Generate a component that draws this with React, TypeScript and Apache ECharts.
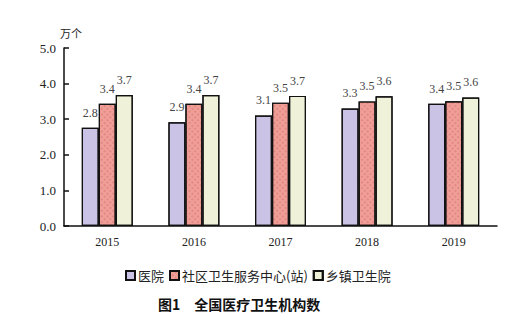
import React, { useEffect, useRef } from "react";
import * as echarts from "echarts";

const years = ["2015", "2016", "2017", "2018", "2019"];
const hospitals = [2.7587, 2.914, 3.1056, 3.3009, 3.4354];
const community = [3.4321, 3.4327, 3.4652, 3.4997, 3.5013];
const township = [3.6817, 3.6795, 3.6551, 3.6461, 3.6112];
const seriesNames = ["医院", "社区卫生服务中心(站)", "乡镇卫生院"];
const titleText = "图1　全国医疗卫生机构数";

export default function App() {
  const ref = useRef<HTMLDivElement>(null);
  useEffect(() => {
    document.body.style.margin = "0";
    const chart = echarts.init(ref.current!, null, { renderer: "svg" });
    const serif = "'Liberation Serif', 'DejaVu Serif', serif";
    const cjk = "'Noto Sans CJK SC', sans-serif";
    const mk = (name: string, data: number[], color: string, dot: string, cross: boolean) => ({
      name,
      type: "bar",
      data,
      barWidth: 17,
      barGap: "0%",
      itemStyle: {
        color,
        borderColor: "#111",
        borderWidth: 1.2,
        decal: cross
          ? { symbol: "rect", symbolSize: 0.6, color: dot, dashArrayX: [1.5, 1.5], dashArrayY: [1.5, 1.5], rotation: Math.PI / 4 }
          : { symbol: "circle", symbolSize: 0.6, color: dot, dashArrayX: [1, 3], dashArrayY: [1, 3], rotation: 0 },
      },
      label: {
        show: true,
        position: "top",
        distance: 9,
        formatter: (p: any) => p.value.toFixed(1),
        fontFamily: serif,
        fontSize: 12,
        color: "#444",
      },
    });
    chart.setOption({
      animation: false,
      grid: { left: 64, right: 22, top: 48, bottom: 110 },
      title: {
        text: titleText,
        left: 153,
        top: 292,
        textStyle: { fontFamily: cjk, fontWeight: "bold", fontSize: 14, color: "#111" },
      },
      legend: {
        left: 120,
        top: 264,
        itemWidth: 9,
        itemHeight: 9,
        itemGap: 5,
        icon: "rect",
        textStyle: { fontFamily: cjk, fontSize: 13, color: "#222", padding: [0, 0, 0, -2] },
        data: seriesNames,
      },
      xAxis: {
        type: "category",
        data: years,
        axisLine: { lineStyle: { color: "#111", width: 1.5 } },
        axisTick: { inside: true, length: 5, lineStyle: { color: "#111", width: 1.5 } },
        axisLabel: { fontFamily: serif, fontSize: 12, color: "#222", margin: 10 },
      },
      yAxis: {
        type: "value",
        min: 0,
        max: 5,
        interval: 1,
        name: "万个",
        nameGap: 10,
        nameTextStyle: { fontFamily: cjk, fontSize: 11, color: "#222", align: "left", padding: [0, 0, 0, -4] },
        axisLine: { show: true, lineStyle: { color: "#111", width: 1.5 } },
        axisTick: { show: true, inside: true, length: 5, lineStyle: { color: "#111", width: 1.5 } },
        splitLine: { show: false },
        axisLabel: {
          fontFamily: serif,
          fontSize: 13,
          color: "#222",
          margin: 8,
          formatter: (v: number) => v.toFixed(1),
        },
      },
      series: [
        mk(seriesNames[0], hospitals, "#cbc3e5", "#8e86b5", false),
        mk(seriesNames[1], community, "#ef9f97", "#c95050", true),
        mk(seriesNames[2], township, "#eff2d9", "#aab08e", false),
      ],
    });
    return () => chart.dispose();
  }, []);
  return <div ref={ref} style={{ width: 519, height: 336, position: "fixed", left: 0, top: 0, background: "#fff" }} />;
}
